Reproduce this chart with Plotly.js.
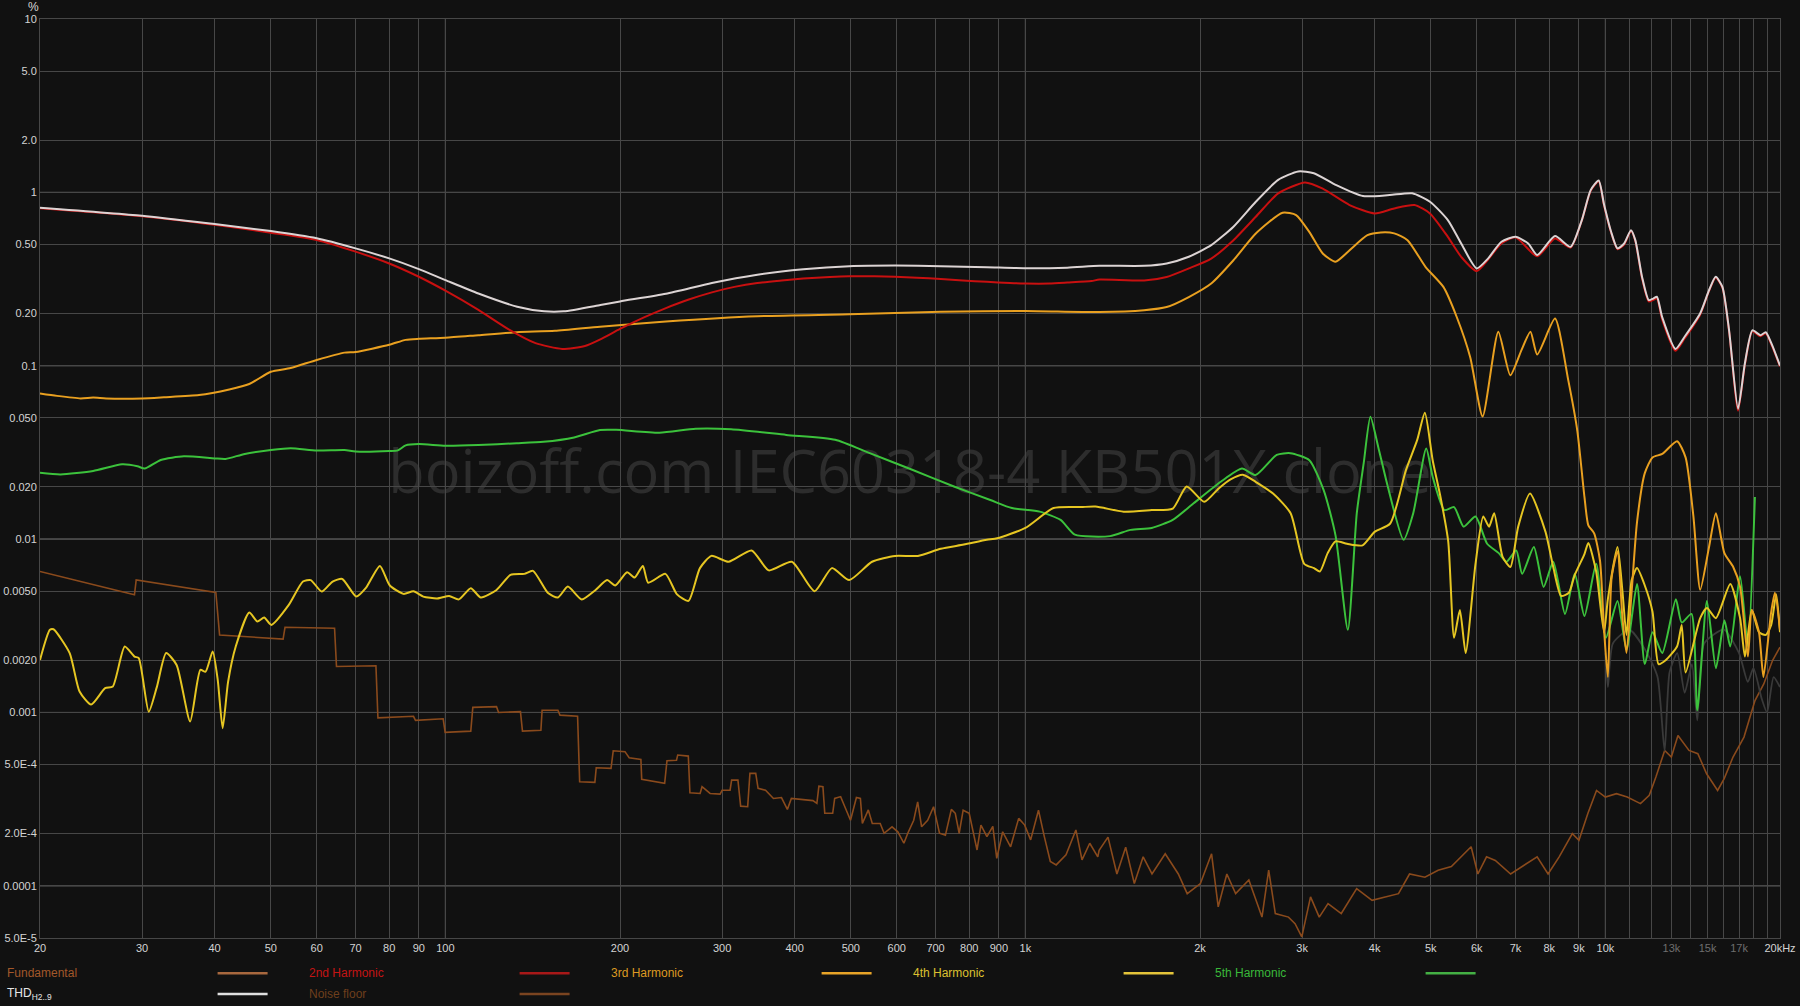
<!DOCTYPE html>
<html>
<head>
<meta charset="utf-8">
<script src="https://cdn.plot.ly/plotly-3.0.1.min.js"></script>
<style>
html,body{margin:0;padding:0;background:#111111;}
#chart{width:1800px;height:1006px;}
</style>
</head>
<body>
<div id="chart"></div>
<script>
// ---------- DATA (frequency Hz, level %) ----------
const thd = [[20,0.816],[30,0.733],[40,0.656],[50,0.598],[60,0.543],[70,0.475],[80,0.416],[90,0.361],[100,0.312],[114,0.261],[133,0.219],[148,0.206],[160,0.206],[185,0.224],[200,0.235],[240,0.26],[288,0.30],[345,0.335],[414,0.36],[497,0.375],[596,0.378],[715,0.375],[858,0.37],[997,0.365],[1181,0.368],[1342,0.377],[1602,0.377],[1752,0.389],[1913,0.425],[2091,0.496],[2284,0.634],[2496,0.883],[2728,1.18],[2954,1.32],[3143,1.29],[3436,1.10],[3819,0.952],[4248,0.965],[4644,0.987],[4983,0.883],[5350,0.692],[5641,0.507],[6000,0.364],[6275,0.415],[6618,0.519],[7000,0.554],[7361,0.507],[7628,0.435],[8186,0.56],[8708,0.485],[9107,0.692],[9432,1.03],[9737,1.17],[9947,0.85],[10216,0.6],[10492,0.475],[10772,0.507],[11068,0.605],[11261,0.53],[11564,0.326],[11878,0.239],[12090,0.244],[12268,0.25],[12527,0.191],[13208,0.125],[13686,0.1465],[14565,0.2],[15089,0.2725],[15494,0.326],[15912,0.285],[16340,0.16],[16932,0.0564],[17394,0.1027],[17922,0.16],[18500,0.15],[18900,0.156],[19339,0.134],[20000,0.1]];

const h2 = [[20,0.81],[30,0.728],[40,0.65],[50,0.585],[60,0.531],[70,0.455],[80,0.389],[90,0.326],[100,0.271],[114,0.21],[129,0.161],[143,0.135],[159,0.125],[174,0.13],[185,0.142],[200,0.163],[220,0.19],[240,0.215],[262,0.24],[288,0.265],[315,0.285],[345,0.30],[380,0.31],[414,0.318],[460,0.325],[497,0.328],[550,0.328],[596,0.326],[650,0.322],[715,0.316],[780,0.31],[858,0.305],[940,0.3],[1000,0.298],[1100,0.298],[1181,0.302],[1300,0.308],[1342,0.314],[1602,0.31],[1752,0.325],[1913,0.364],[2091,0.415],[2284,0.53],[2496,0.723],[2728,0.987],[3034,1.14],[3256,1.05],[3622,0.845],[4000,0.756],[4324,0.808],[4685,0.845],[4983,0.756],[5350,0.554],[5641,0.425],[6000,0.352],[6618,0.507],[7000,0.55],[7628,0.428],[8186,0.542],[8708,0.48],[9107,0.69],[9432,1.02],[9737,1.16],[9947,0.84],[10216,0.595],[10492,0.47],[10772,0.5],[11068,0.6],[11261,0.525],[11564,0.32],[11878,0.235],[12090,0.24],[12268,0.245],[12527,0.185],[13208,0.122],[13686,0.143],[14565,0.197],[15089,0.27],[15494,0.323],[15912,0.282],[16340,0.158],[16932,0.055],[17394,0.101],[17922,0.158],[18500,0.148],[18900,0.154],[19339,0.132],[20000,0.099]];

const h3 = [[20,0.0692],[21.4,0.067],[23.5,0.0648],[24.7,0.0655],[26,0.0648],[30,0.0648],[32.7,0.0658],[37.6,0.0677],[42.4,0.073],[45.9,0.0784],[50,0.0923],[54.1,0.097],[60,0.108],[67,0.119],[70,0.12],[80,0.132],[85.4,0.141],[90,0.143],[100,0.145],[114,0.150],[132.7,0.156],[154.5,0.159],[184.7,0.168],[240,0.18],[345,0.193],[497,0.198],[715,0.205],[1000,0.207],[1342,0.204],[1602,0.209],[1752,0.218],[1913,0.249],[2091,0.298],[2284,0.406],[2496,0.579],[2776,0.763],[2929,0.74],[3088,0.59],[3256,0.444],[3424,0.398],[3622,0.464],[3888,0.566],[4100,0.587],[4324,0.58],[4559,0.53],[4895,0.372],[5256,0.285],[5542,0.191],[5847,0.112],[6142,0.051],[6536,0.157],[6856,0.088],[7166,0.123],[7426,0.157],[7628,0.116],[8186,0.187],[8632,0.082],[8946,0.042],[9202,0.0175],[9345,0.012],[9564,0.0108],[9788,0.0075],[9946,0.003],[10098,0.0016],[10250,0.006],[10492,0.0085],[10700,0.0035],[10873,0.0022],[11100,0.005],[11336,0.0125],[11693,0.024],[12058,0.0296],[12532,0.031],[13290,0.0367],[13748,0.0296],[14180,0.0136],[14570,0.0051],[15080,0.0089],[15507,0.0141],[16040,0.0083],[16610,0.0069],[17070,0.0053],[17607,0.0021],[17880,0.0039],[18400,0.0029],[18725,0.0016],[19313,0.0038],[19600,0.0049],[20000,0.003]];

const h4 = [[20,0.00201],[20.8,0.0030],[21.1,0.00302],[22.5,0.0022],[23.4,0.00132],[24.5,0.00111],[25.9,0.00138],[26.7,0.00141],[28.0,0.0024],[29.1,0.0021],[29.6,0.00206],[30.8,0.00101],[31.8,0.0014],[33.0,0.0022],[34.4,0.00188],[36.3,0.000887],[37.8,0.00176],[38.6,0.00172],[39.7,0.00225],[40.5,0.00154],[41.3,0.00081],[42.2,0.0015],[43.5,0.0024],[45.9,0.00377],[47.4,0.00335],[48.7,0.00353],[50.1,0.0032],[53.7,0.00417],[56.8,0.00569],[58.6,0.0058],[61.2,0.00498],[63.9,0.00569],[66.4,0.00589],[70.2,0.00466],[73.0,0.00525],[77.1,0.007],[80.2,0.0054],[84.7,0.00483],[88.1,0.005],[91.6,0.00466],[96.8,0.00455],[101.5,0.0047],[105.5,0.00449],[110.6,0.00521],[115.1,0.0046],[122.5,0.00509],[129.5,0.00622],[136.8,0.0063],[141.6,0.00656],[150.3,0.00488],[156.3,0.0046],[162.6,0.00532],[171.8,0.00449],[181.5,0.00509],[190,0.0058],[196.2,0.0054],[205.7,0.00644],[212,0.006],[219,0.007],[223.7,0.0056],[239.5,0.0063],[250.8,0.0048],[262.5,0.0044],[274.7,0.0068],[287.5,0.008],[307.7,0.0074],[337.2,0.0086],[361,0.0066],[395.6,0.0074],[433,0.005],[463.8,0.0068],[496.8,0.0058],[544,0.0074],[596,0.008],[652.6,0.008],[714.7,0.0088],[783,0.0093],[858,0.0099],[894,0.0101],[1000,0.0116],[1118,0.0151],[1249,0.0153],[1321,0.0154],[1477,0.0144],[1651,0.0147],[1795,0.015],[1897,0.0201],[2034,0.0164],[2154,0.0196],[2258,0.0221],[2371,0.0235],[2494,0.0214],[2673,0.0183],[2866,0.0141],[3025,0.0072],[3145,0.0068],[3219,0.0065],[3320,0.0083],[3425,0.0097],[3585,0.0094],[3813,0.0092],[4000,0.011],[4256,0.0123],[4530,0.025],[4736,0.0372],[4884,0.0535],[5037,0.0285],[5196,0.0175],[5358,0.0097],[5484,0.0027],[5612,0.0039],[5742,0.0022],[5971,0.0072],[6157,0.0135],[6301,0.0118],[6430,0.0141],[6649,0.0079],[6858,0.0069],[7074,0.0118],[7413,0.0183],[7884,0.011],[8130,0.0069],[8387,0.0047],[8651,0.0049],[8853,0.0062],[9202,0.0082],[9345,0.0095],[9640,0.0065],[9946,0.0029],[10098,0.0045],[10492,0.009],[10700,0.005],[10873,0.0028],[11100,0.0058],[11336,0.0068],[11693,0.0054],[12058,0.0038],[12350,0.0019],[12700,0.002],[13290,0.0024],[13537,0.0032],[13748,0.0017],[14570,0.0035],[14963,0.004],[15507,0.0035],[16417,0.0055],[17070,0.0035],[17400,0.0021],[17880,0.0039],[18400,0.0029],[18900,0.0028],[19313,0.0032],[19700,0.0048],[20000,0.0029]];

const h5 = [[20,0.0241],[21.7,0.0236],[24.7,0.0247],[27.7,0.027],[29.45,0.0263],[30.3,0.0255],[32.3,0.0286],[35.4,0.030],[40,0.0292],[41.8,0.029],[45.1,0.031],[50,0.0326],[54.1,0.0334],[60,0.0324],[67,0.0326],[70,0.032],[80,0.0322],[82.8,0.0325],[85.4,0.0347],[90,0.0353],[100,0.0346],[114,0.0349],[132.7,0.0357],[147.6,0.0364],[166.7,0.0386],[184.7,0.0426],[197,0.0427],[234,0.0411],[270,0.0433],[311,0.043],[387,0.0399],[470,0.0374],[539,0.0313],[638,0.0251],[753,0.0201],[870,0.0168],[948,0.0151],[1058,0.0144],[1150,0.0129],[1217,0.0106],[1399,0.0104],[1519,0.0113],[1651,0.0116],[1795,0.0129],[1950,0.0161],[2175,0.0215],[2363,0.0255],[2494,0.0234],[2712,0.0306],[2864,0.0313],[3087,0.0285],[3269,0.0191],[3425,0.0105],[3597,0.003],[3727,0.0141],[3830,0.0273],[3934,0.0507],[4058,0.034],[4217,0.02],[4487,0.0099],[4663,0.0141],[4910,0.0333],[5037,0.0229],[5277,0.0147],[5484,0.0153],[5696,0.0118],[5971,0.0135],[6253,0.0094],[6548,0.0083],[6751,0.0074],[7020,0.0086],[7185,0.0063],[7528,0.009],[7824,0.0053],[8130,0.0074],[8518,0.0037],[8853,0.0063],[9202,0.0036],[9640,0.0072],[10021,0.0027],[10492,0.0044],[10873,0.0023],[11336,0.0055],[11693,0.0019],[12058,0.0029],[12532,0.0022],[13228,0.0045],[13537,0.0033],[14070,0.0037],[14400,0.00103],[14963,0.0044],[15507,0.0018],[16040,0.0034],[16417,0.0024],[17070,0.0061],[17607,0.0024],[18103,0.0175]];

const noise = [[20,0.0065],[29.1,0.00477],[29.3,0.00582],[40.2,0.00492],[40.8,0.0028],[52.5,0.00265],[52.9,0.0031],[64.4,0.00306],[64.9,0.00184],[75.9,0.00186],[76.5,0.00093],[88.1,0.00095],[88.8,0.0009],[99.1,0.00092],[99.9,0.000767],[110.6,0.00078],[111.5,0.00107],[122.5,0.00108],[123.5,0.001],[134.7,0.00101],[135.8,0.00078],[146.1,0.00079],[146.8,0.00103],[156.3,0.00103],[157.6,0.000965],[169,0.000952],[170.4,0.000398],[181,0.000395],[182,0.00048],[193,0.000476],[194.7,0.000601],[204,0.000594],[207.4,0.000548],[217.3,0.000536],[218,0.000411],[238.8,0.00039],[241,0.000526],[250.3,0.00053],[251.5,0.000568],[262.3,0.00056],[264,0.000344],[274.9,0.000341],[277,0.000373],[286,0.000341],[297.6,0.000338],[300,0.000356],[309.6,0.000356],[311.5,0.000407],[319.4,0.000407],[322.9,0.000288],[332,0.000286],[335,0.000445],[342.8,0.000445],[346,0.000365],[356.4,0.000356],[367.8,0.000319],[379.7,0.000323],[388.7,0.000276],[394.9,0.000319],[416.9,0.000313],[430.2,0.00031],[437,0.000299],[440.5,0.000376],[447.6,0.000373],[450.9,0.000262],[465.3,0.000262],[469,0.000319],[480.2,0.000327],[487.6,0.000292],[499.4,0.000239],[511.3,0.000323],[519.4,0.000319],[523.5,0.000229],[536,0.000274],[544.5,0.000229],[561.9,0.000229],[570.7,0.000201],[588.9,0.000219],[602.6,0.000205],[617.3,0.000176],[626.9,0.000201],[641.9,0.000239],[652,0.000305],[662.3,0.000219],[678.4,0.000239],[694.5,0.000286],[711,0.000201],[727.9,0.000196],[745.3,0.000276],[757,0.000262],[768.8,0.000201],[781,0.000273],[800,0.000262],[812.6,0.000201],[825.3,0.000161],[838.2,0.000224],[858.3,0.000192],[878.7,0.00022],[892.5,0.000144],[913.7,0.000205],[943,0.000168],[973.7,0.000245],[997.3,0.000224],[1021,0.000184],[1053.3,0.000273],[1078,0.000192],[1104,0.000138],[1130,0.000132],[1175,0.000151],[1222,0.00021],[1252,0.000141],[1291,0.000176],[1333,0.000147],[1340,0.00016],[1388,0.000191],[1438,0.000117],[1489,0.000167],[1541,0.000103],[1596,0.000147],[1653,0.000117],[1742,0.000153],[1835,0.000117],[1901,0.0000901],[2003,0.000103],[2094,0.000153],[2150,0.0000756],[2225,0.000117],[2304,0.0000901],[2428,0.000108],[2558,0.000066],[2627,0.000123],[2697,0.0000692],[2842,0.000066],[2917,0.0000605],[2996,0.0000507],[3102,0.0000863],[3211,0.000066],[3325,0.0000789],[3504,0.0000692],[3725,0.0000964],[3960,0.0000825],[4172,0.0000863],[4398,0.0000901],[4595,0.000117],[4884,0.000112],[5148,0.000123],[5425,0.000129],[5868,0.000168],[6027,0.000117],[6238,0.000147],[6459,0.00014],[6865,0.000117],[7172,0.000129],[7626,0.000147],[7965,0.000117],[8323,0.000147],[8770,0.0002],[9003,0.000183],[9327,0.000261],[9653,0.000355],[9997,0.000325],[10448,0.00034],[10905,0.000325],[11494,0.000298],[11903,0.000333],[12220,0.000424],[12653,0.000604],[12993,0.000553],[13338,0.000737],[13936,0.000604],[14433,0.000578],[14945,0.000443],[15612,0.000355],[16026,0.000415],[16597,0.000553],[17335,0.000721],[18109,0.00117],[18753,0.00146],[19423,0.002],[20000,0.00238]];

const residual = [[10000,0.0022],[10100,0.0014],[10300,0.0025],[11000,0.003],[11800,0.0022],[12300,0.0016],[12650,0.0006],[12900,0.0017],[13300,0.0022],[13700,0.0013],[14100,0.0019],[14400,0.0009],[14800,0.0025],[16000,0.003],[17000,0.0022],[17600,0.0015],[18000,0.0018],[18600,0.0012],[19000,0.001],[19500,0.0016],[20000,0.0014]];

const xTickVals = [20,30,40,50,60,70,80,90,100,200,300,400,500,600,700,800,900,1000,2000,3000,4000,5000,6000,7000,8000,9000,10000,13000,15000,17000,20000];
const xTickText = ['20','30','40','50','60','70','80','90','100','200','300','400','500','600','700','800','900','1k','2k','3k','4k','5k','6k','7k','8k','9k','10k','13k','15k','17k','20kHz'];
const xDimTicks = ['13k','15k','17k'];
const xExtraGrid = [11000,12000,14000,16000,18000,19000];
const yTickVals = [10,5,2,1,0.5,0.2,0.1,0.05,0.02,0.01,0.005,0.002,0.001,0.0005,0.0002,0.0001,0.00005];
const yTickText = ['10','5.0','2.0','1','0.50','0.20','0.1','0.050','0.020','0.01','0.0050','0.0020','0.001','5.0E-4','2.0E-4','0.0001','5.0E-5'];
const xMajorGrid = [100,1000,10000];
const yMajorGrid = [1,0.1,0.01,0.001,0.0001];
const legendNames = ['Fundamental','2nd Harmonic','3rd Harmonic','4th Harmonic','5th Harmonic','THD<sub>H2..9</sub>','Noise floor'];
const watermark = 'boizoff.com IEC60318-4 KB501X clone';

// ---------- STYLE ----------
const FONT = '"Liberation Sans", Arial, sans-serif';
const BG = '#111111';
const GRID = '#474747';
const GRID_MAJOR = '#8a8a8a';
const L = 40, R = 20, T = 19, B = 67.5, W = 1800, H = 1006;
const PW = W - L - R, PH = H - T - B;
const px2x = px => (px - L) / PW;
const px2y = py => (H - B - py) / PH;

function tr(arr, name, color, width, shape) {
  return {
    x: arr.map(p => p[0]), y: arr.map(p => p[1]), name: name,
    type: 'scatter', mode: 'lines',
    line: {color: color, width: width, shape: shape || 'spline', smoothing: 0.6},
    hoverinfo: 'skip', showlegend: false
  };
}

const traces = [
  tr(noise, 'Noise floor', '#8a4a1c', 1.6, 'linear'),
  tr(residual, 'Residual', '#3a3a3a', 1.8),
  tr(h5, '5th Harmonic', '#3cc23c', 2),
  tr(h4, '4th Harmonic', '#e6c622', 2),
  tr(h3, '3rd Harmonic', '#e9a020', 2),
  tr(h2, '2nd Harmonic', '#c81010', 2),
  tr(thd, 'THD', '#dcd4d4', 2)
];

const shapes = [];
xMajorGrid.forEach(v => shapes.push({type:'line', xref:'x', yref:'paper', x0:v, x1:v, y0:0, y1:1, line:{color:GRID_MAJOR, width:1}, layer:'below'}));
yMajorGrid.forEach(v => shapes.push({type:'line', xref:'paper', yref:'y', x0:0, x1:1, y0:v, y1:v, line:{color:GRID_MAJOR, width:1}, layer:'below'}));
// watermark behind data
shapes.push({type:'rect', xref:'paper', yref:'paper', x0:0.2, x1:0.8, y0:0.46, y1:0.55, line:{width:0}, fillcolor:'rgba(0,0,0,0)', layer:'below',
  label:{text:watermark, textposition:'middle center', font:{family:'"Open Sans", "Noto Sans", sans-serif', size:59.5, color:'#2d2d2d', weight:400}}});

// legend (text first, sample line to the right), two rows
const legendText = ['#a3582a','#c41414','#dd9a22','#dcc030','#3ab83a','#e6e6e6','#6e3f1c'];
const legendLine = ['#a8683e','#a81818','#e8a428','#e4c43a','#44b044','#e0e0e0','#7a4420'];
const legendCol = [0,1,2,3,4,0,1];
const legendRow = [0,0,0,0,0,1,1];
const annotations = [];
legendNames.forEach((n, i) => {
  const colX = 4.6 + 302 * legendCol[i];
  const rowY = legendRow[i] === 0 ? 973.7 : 994.5;
  annotations.push({xref:'paper', yref:'paper', x:px2x(colX), y:px2y(rowY), xanchor:'left', yanchor:'middle',
    text:n, showarrow:false, font:{family:FONT, size:12, color:legendText[i]}});
  shapes.push({type:'line', xref:'paper', yref:'paper', x0:px2x(colX + 213), x1:px2x(colX + 263), y0:px2y(rowY), y1:px2y(rowY),
    line:{color:legendLine[i], width:2.5}});
});
annotations.push({xref:'paper', yref:'paper', x:px2x(33), y:px2y(7), xanchor:'center', yanchor:'middle', text:'%', showarrow:false,
  font:{family:FONT, size:12, color:'#d8d8d8'}});

const layout = {
  width: W, height: H,
  margin: {l:L, r:R, t:T, b:B, pad:0},
  paper_bgcolor: BG, plot_bgcolor: BG,
  showlegend: false,
  hovermode: false,
  xaxis: {
    type:'log', range:[Math.log10(20), Math.log10(20000)],
    tickmode:'array', tickvals:xTickVals,
    ticktext: xTickText.map(t => xDimTicks.includes(t) ? '<span style="color:#6e6e6e">' + t + '</span>' : t),
    tickfont:{family:FONT, size:11, color:'#d4d4d4'},
    ticks:'', showgrid:true, gridcolor:GRID, gridwidth:1,
    minor:{tickmode:'array', tickvals:xExtraGrid, showgrid:true, gridcolor:GRID, gridwidth:1, ticks:''},
    showline:true, linecolor:GRID, linewidth:1, mirror:true, zeroline:false, tickangle:0
  },
  yaxis: {
    type:'log', range:[Math.log10(0.00005), Math.log10(10)],
    tickmode:'array', tickvals:yTickVals, ticktext:yTickText,
    tickfont:{family:FONT, size:11, color:'#d4d4d4'},
    ticks:'', showgrid:true, gridcolor:GRID, gridwidth:1,
    showline:true, linecolor:GRID, linewidth:1, mirror:true, zeroline:false
  },
  shapes: shapes,
  annotations: annotations
};

Plotly.newPlot('chart', traces, layout, {staticPlot:true, displayModeBar:false});
</script>
</body>
</html>
